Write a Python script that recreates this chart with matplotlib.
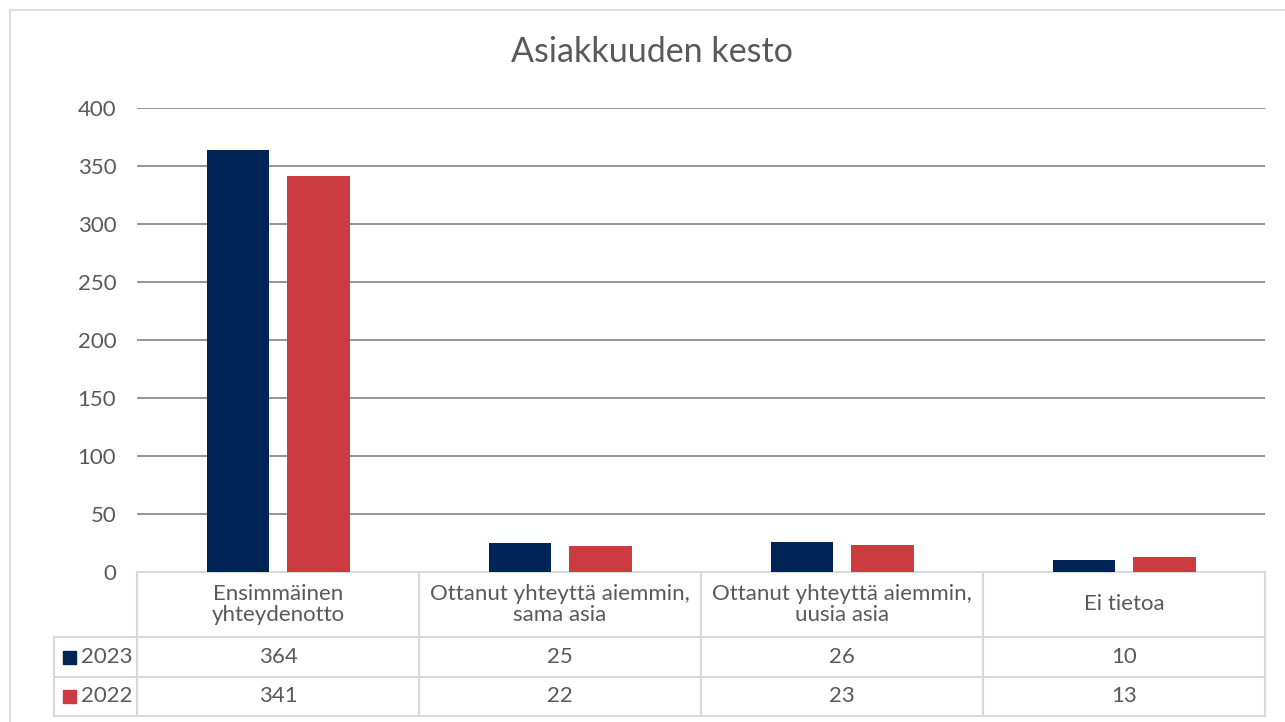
import numpy as np
import matplotlib.pyplot as plt
import matplotlib.transforms as mtransforms
from matplotlib.patches import Rectangle

plt.rcParams['font.family'] = ['Lato', 'DejaVu Sans']

# data
categories = ['Ensimmäinen\nyhteydenotto', 'Ottanut yhteyttä aiemmin,\nsama asia',
              'Ottanut yhteyttä aiemmin,\nuusia asia', 'Ei tietoa']
series_names = ['2023', '2022']
values_2023 = [364, 25, 26, 10]
values_2022 = [341, 22, 23, 13]

colors = ['#002455', '#CC3B3F']
text_col = '#595959'
grid_col = '#8C8C8C'
table_col = '#D9D9D9'
fs = 16

W, H = 1285, 722
fig = plt.figure(figsize=(W / 100, H / 100), dpi=100)
ax = fig.add_axes([137 / W, (H - 572) / H, 1128 / W, 464 / H])

x = np.arange(len(categories))
bw = 0.223
ax.bar(x - 0.142, values_2023, bw, color=colors[0], zorder=3)
ax.bar(x + 0.145, values_2022, bw, color=colors[1], zorder=3)

ax.set_xlim(-0.5, len(categories) - 0.5)
ax.set_ylim(0, 400)
ax.set_yticks(range(0, 401, 50))
ax.tick_params(axis='y', length=0, pad=15, labelsize=fs, labelcolor=text_col)
ax.set_xticks([])
for s in ax.spines.values():
    s.set_visible(False)
for yv in range(50, 401, 50):
    ax.axhline(yv, color=grid_col, lw=1.3, zorder=1)

# title centred on the whole chart
fig.text(652 / W, 1 - 52 / H, 'Asiakkuuden kesto', ha='center', va='center',
         fontsize=24.5, color=text_col)

# data table below the plot
tr = mtransforms.blended_transform_factory(ax.transData, ax.transAxes)
def py(p):
    return (572 - p) / 464.0

left = -0.5 - 83 / 282.0
right = len(categories) - 0.5
rows_y = [py(572), py(637), py(677), py(716)]
lkw = dict(color=table_col, lw=1.5, transform=tr, clip_on=False, zorder=2)
ax.plot([-0.5, right], [rows_y[0]] * 2, **lkw)
for yy in rows_y[1:]:
    ax.plot([left, right], [yy] * 2, **lkw)
ax.plot([left, left], [rows_y[1], rows_y[3]], **lkw)
for b in np.arange(-0.5, right + 0.01, 1.0):
    ax.plot([b, b], [rows_y[0], rows_y[3]], **lkw)

for i, cat in enumerate(categories):
    ax.text(i, (rows_y[0] + rows_y[1]) / 2, cat, transform=tr, ha='center',
            va='center', fontsize=fs, color=text_col, linespacing=1.1)
    for r, vals in enumerate([values_2023, values_2022]):
        ax.text(i, (rows_y[r + 1] + rows_y[r + 2]) / 2, str(vals[i]), transform=tr,
                ha='center', va='center', fontsize=fs, color=text_col)

sq = 13 / 282.0
for r, name in enumerate(series_names):
    yc = (rows_y[r + 1] + rows_y[r + 2]) / 2
    ax.add_patch(Rectangle((left + 9 / 282.0, yc - 6.5 / 464), sq, 13 / 464,
                           transform=tr, color=colors[r], clip_on=False))
    ax.text(left + 27 / 282.0, yc, name, transform=tr, ha='left', va='center',
            fontsize=fs, color=text_col)

# outer chart border
fig.add_artist(Rectangle((10 / W, -0.1), 1.2, 1.1 - 10 / H, transform=fig.transFigure,
                         fill=False, edgecolor='#D9D9D9', lw=1.2))

fig.savefig('out.png', dpi=100)
